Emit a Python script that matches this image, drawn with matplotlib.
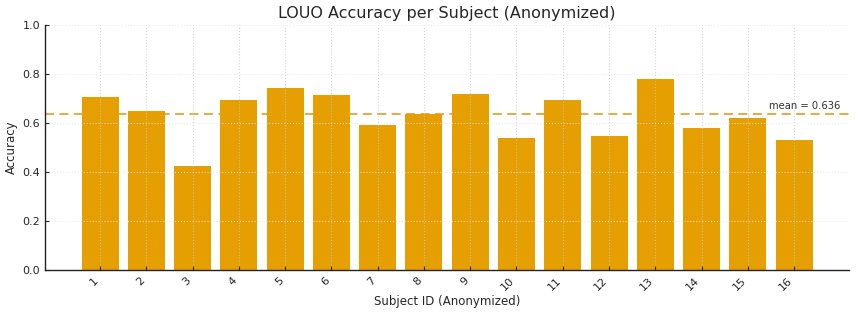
import matplotlib
matplotlib.use("Agg")
import matplotlib.pyplot as plt
import numpy as np

subjects = [str(i) for i in range(1, 17)]
accuracy = [0.708, 0.650, 0.425, 0.694, 0.743, 0.713, 0.591, 0.638,
            0.719, 0.541, 0.696, 0.549, 0.779, 0.579, 0.621, 0.533]

bar_color = "#E69F00"
text_color = "#262626"

fig = plt.figure(figsize=(8.56, 3.16), dpi=100)
ax = fig.add_axes([0.0526, 0.1446, 0.9394, 0.7764])

x = np.arange(len(subjects))
ax.bar(x, accuracy, width=0.8, color=bar_color, edgecolor="none", zorder=2)

mean = float(np.mean(accuracy))
ax.axhline(mean, color="#E3A43A", linestyle=(0, (5, 3)), linewidth=1.3, zorder=1.5)
ax.text(len(subjects), mean + 0.012, f"mean = {mean:.3f}", ha="right", va="bottom",
        fontsize=7.2, color="#333333")

ax.set_xlim(-1.19, len(subjects) - 1 + 1.19)
ax.set_ylim(0, 1.0)
ax.set_xticks(x)
ax.set_xticklabels(subjects, rotation=45, ha="right", rotation_mode="default")
ax.set_yticks([0.0, 0.2, 0.4, 0.6, 0.8, 1.0])

ax.set_axisbelow(False)
ax.grid(True, axis="x", linestyle=":", color="#c8c8c8", linewidth=0.8, alpha=0.8, zorder=3)
ax.grid(True, axis="y", linestyle=":", color="#e6e6e6", linewidth=0.8, alpha=0.8, zorder=3)

for s in ["top", "right"]:
    ax.spines[s].set_visible(False)
for s in ["left", "bottom"]:
    ax.spines[s].set_color("#222222")
    ax.spines[s].set_linewidth(1.0)
    ax.spines[s].set_zorder(4)

ax.tick_params(axis="both", labelsize=8, colors=text_color, direction="in", length=3, pad=3.5)
ax.set_title("LOUO Accuracy per Subject (Anonymized)", fontsize=11.5, color=text_color, pad=5)
ax.set_xlabel("Subject ID (Anonymized)", fontsize=8.5, color=text_color, labelpad=2)
ax.set_ylabel("Accuracy", fontsize=8.5, color=text_color, labelpad=3)

fig.savefig("out.png", dpi=100)
